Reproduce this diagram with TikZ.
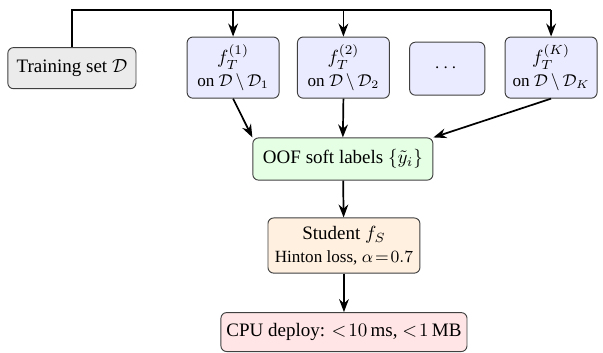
\documentclass[tikz,border=0pt]{standalone}
\usepackage{amsmath}
\usepackage{amssymb}
\usepackage{fontspec}
\setmainfont{Liberation Serif}
\usetikzlibrary{arrows.meta}

\begin{document}
\begin{tikzpicture}[
		box/.style={draw=black!75, rounded corners=3pt, line width=0.5pt, align=center, inner sep=2pt},
		teacher/.style={box, fill=blue!8, minimum width=1.70cm, minimum height=1.13cm},
		arr/.style={-{Stealth[length=2.4mm,width=1.8mm]}, line width=0.9pt}
	]
		\useasboundingbox (0,0) rectangle (11.15,6.51);
		\coordinate (top) at (0,6.32);
		% data and teachers
		\node[box, fill=black!8, minimum width=2.37cm, minimum height=0.76cm] (train) at (1.33,5.25) {Training set $\mathcal{D}$};
		\node[teacher] (f1) at (4.31,5.26) {$f_T^{(1)}$\\{\small on $\mathcal{D}\,\backslash\,\mathcal{D}_1$}};
		\node[teacher] (f2) at (6.35,5.26) {$f_T^{(2)}$\\{\small on $\mathcal{D}\,\backslash\,\mathcal{D}_2$}};
		\node[box, fill=blue!8, minimum width=1.39cm, minimum height=0.98cm] (dots) at (8.27,5.24) {$\cdots$};
		\node[teacher] (fK) at (10.19,5.26) {$f_T^{(K)}$\\{\small on $\mathcal{D}\,\backslash\,\mathcal{D}_K$}};
		% pipeline
		\node[box, fill=green!10, minimum width=3.33cm, minimum height=0.78cm] (oof) at (6.34,3.57) {OOF soft labels $\{\tilde{y}_i\}$};
		\node[box, fill=orange!12, minimum width=2.81cm, minimum height=1.02cm] (student) at (6.36,1.97) {Student $f_S$\\{\small Hinton loss, $\alpha\!=\!0.7$}};
		\node[box, fill=red!10, minimum width=4.55cm, minimum height=0.72cm] (cpu) at (6.36,0.37) {CPU deploy: $<\!10\,$ms, $<\!1\,$MB};
		% connectors
		\draw[line width=0.9pt] (train.north) |- (fK.north |- top);
		\draw[arr] (f1.north |- top) -- (f1.north);
		\draw[arr] (f2.north |- top) -- (f2.north);
		\draw[arr] (fK.north |- top) -- (fK.north);
		\draw[arr] (f1.south) -- (oof.north west);
		\draw[arr] (f2.south) -- (oof.north);
		\draw[arr] (fK.south) -- (oof.north east);
		\draw[arr] (oof) -- (student);
		\draw[arr] (student) -- (cpu);
\end{tikzpicture}
\end{document}
